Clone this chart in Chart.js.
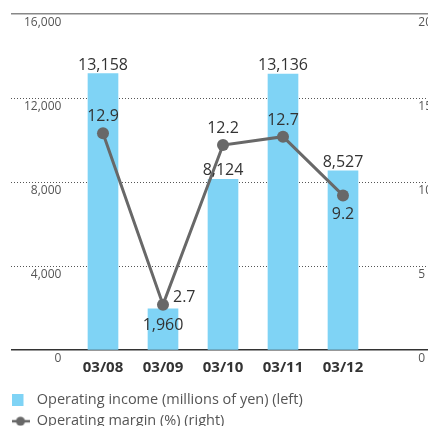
<!DOCTYPE html>
<html>
<head>
<meta charset="utf-8">
<script src="https://cdn.jsdelivr.net/npm/chart.js@4.4.1/dist/chart.umd.min.js"></script>
<style>
  html, body { margin: 0; padding: 0; background: #fff; overflow: hidden; }
  #wrap { width: 428px; height: 426px; overflow: hidden; }
</style>
</head>
<body>
<div id="wrap"><canvas id="c" width="428" height="448"></canvas></div>
<script>
// ---- data ----
const categories = ['03/08', '03/09', '03/10', '03/11', '03/12'];
const operatingIncome = [13158, 1960, 8124, 13136, 8527];
const operatingMargin = [12.9, 2.7, 12.2, 12.7, 9.2];
const leftTicks = [0, 4000, 8000, 12000, 16000];
const rightTicks = [0, 5, 10, 15, 20];
const seriesNames = ['Operating income (millions of yen) (left)', 'Operating margin (%) (right)'];

// ---- styling ----
const BAR_COLOR = '#7fd3f5';
const LINE_COLOR = '#686868';
const FONT = '"Open Sans", "DejaVu Sans", sans-serif';
const barLabelPlace = ['top', 'inside', 'top', 'top', 'top'];
const lineLabelPlace = ['above', 'right', 'above', 'above', 'below'];

function makeLegendImage(kind) {
  const cv = document.createElement('canvas');
  cv.width = 18; cv.height = 12;
  const g = cv.getContext('2d');
  if (kind === 'bar') {
    g.fillStyle = BAR_COLOR;
    g.fillRect(0, 0, 12, 12);
  } else {
    g.strokeStyle = LINE_COLOR;
    g.lineWidth = 2.5;
    g.beginPath(); g.moveTo(0, 6); g.lineTo(18, 6); g.stroke();
    g.fillStyle = LINE_COLOR;
    g.beginPath(); g.arc(9, 6, 4.5, 0, Math.PI * 2); g.fill();
  }
  return cv;
}
const legendImgs = [makeLegendImage('bar'), makeLegendImage('line')];

const fmt = v => v.toLocaleString('en-US');

function noPad(scale) {
  scale.paddingTop = 0; scale.paddingBottom = 0;
  scale.paddingLeft = 0; scale.paddingRight = 0;
}

const labelPlugin = {
  id: 'valueLabels',
  afterDatasetsDraw(chart) {
    const ctx = chart.ctx;
    ctx.save();
    ctx.font = '16px ' + FONT;
    ctx.fillStyle = '#333';
    ctx.textBaseline = 'middle';
    const barMeta = chart.getDatasetMeta(0);
    barMeta.data.forEach((el, i) => {
      ctx.textAlign = 'center';
      const txt = fmt(operatingIncome[i]);
      if (barLabelPlace[i] === 'inside') ctx.fillText(txt, el.x, el.y + 17);
      else ctx.fillText(txt, el.x, el.y - 8.5);
    });
    const lineMeta = chart.getDatasetMeta(1);
    lineMeta.data.forEach((el, i) => {
      const txt = operatingMargin[i].toFixed(1);
      const p = lineLabelPlace[i];
      if (p === 'above') { ctx.textAlign = 'center'; ctx.fillText(txt, el.x, el.y - 16.5); }
      else if (p === 'below') { ctx.textAlign = 'center'; ctx.fillText(txt, el.x, el.y + 18.5); }
      else { ctx.textAlign = 'left'; ctx.fillText(txt, el.x + 10, el.y - 7); }
    });
    ctx.restore();
  }
};

new Chart(document.getElementById('c'), {
  data: {
    datasets: [
      {
        type: 'bar',
        label: seriesNames[0],
        data: operatingIncome.map((v, i) => ({ x: i, y: v })),
        backgroundColor: BAR_COLOR,
        borderWidth: 0,
        barThickness: 30,
        yAxisID: 'y',
        order: 2
      },
      {
        type: 'line',
        label: seriesNames[1],
        data: operatingMargin.map((v, i) => ({ x: i, y: v })),
        borderColor: LINE_COLOR,
        backgroundColor: LINE_COLOR,
        borderWidth: 3,
        pointRadius: 6,
        pointHoverRadius: 6,
        pointBackgroundColor: LINE_COLOR,
        pointBorderWidth: 0,
        tension: 0,
        yAxisID: 'y1',
        order: 1
      }
    ]
  },
  options: {
    responsive: false,
    animation: false,
    devicePixelRatio: 1,
    layout: { autoPadding: false, padding: { left: 5, right: 0, top: 14, bottom: 9.5 } },
    plugins: {
      tooltip: { enabled: false },
      legend: {
        position: 'bottom',
        align: 'start',
        labels: {
          usePointStyle: true,
          pointStyleWidth: 18,
          padding: 6.5,
          color: '#555',
          font: { family: FONT, size: 14.5 },
          generateLabels: (chart) => chart.data.datasets.map((ds, i) => ({
            text: ds.label,
            pointStyle: legendImgs[i],
            fillStyle: i === 0 ? BAR_COLOR : LINE_COLOR,
            strokeStyle: 'transparent',
            lineWidth: 0,
            hidden: false,
            datasetIndex: i,
            fontColor: '#555'
          }))
        }
      }
    },
    scales: {
      x: {
        type: 'linear',
        offset: false,
        min: -1.5333,
        max: 5.4167,
        grid: { display: false, drawTicks: false, offset: false },
        border: { display: false },
        afterBuildTicks: (scale) => { scale.ticks = categories.map((c, i) => ({ value: i })); },
        afterFit: (scale) => { scale.height = 36.5; noPad(scale); },
        ticks: {
          padding: 9,
          color: '#333',
          font: { family: FONT, size: 15, weight: 'bold' },
          callback: (v) => categories[v]
        }
      },
      y: {
        position: 'left',
        min: 0,
        max: 16000,
        afterBuildTicks: (scale) => { scale.ticks = leftTicks.map(v => ({ value: v })); },
        afterFit: (scale) => { scale.width = 6; noPad(scale); },
        grid: {
          drawTicks: false,
          lineWidth: 1,
          color: (c) => (c.tick && (c.tick.value === 0 || c.tick.value === 16000)) ? 'transparent' : '#555'
        },
        border: { display: false, dash: [1, 2] },
        ticks: {
          mirror: true,
          crossAlign: 'far',
          padding: 13,
          labelOffset: 9,
          color: '#555',
          font: { family: FONT, size: 12 },
          callback: (v) => fmt(v)
        }
      },
      y1: {
        position: 'right',
        min: 0,
        max: 20,
        afterBuildTicks: (scale) => { scale.ticks = rightTicks.map(v => ({ value: v })); },
        afterFit: (scale) => { scale.width = 0; noPad(scale); },
        grid: {
          drawTicks: false,
          lineWidth: 1.5,
          color: (c) => {
            if (!c.tick) return 'transparent';
            if (c.tick.value === 20) return '#888';
            if (c.tick.value === 0) return '#333';
            return 'transparent';
          }
        },
        border: { display: false },
        ticks: {
          mirror: true,
          crossAlign: 'far',
          padding: 4,
          labelOffset: 9,
          color: '#555',
          font: { family: FONT, size: 12 }
        }
      }
    }
  },
  plugins: [labelPlugin]
});
</script>
</body>
</html>
